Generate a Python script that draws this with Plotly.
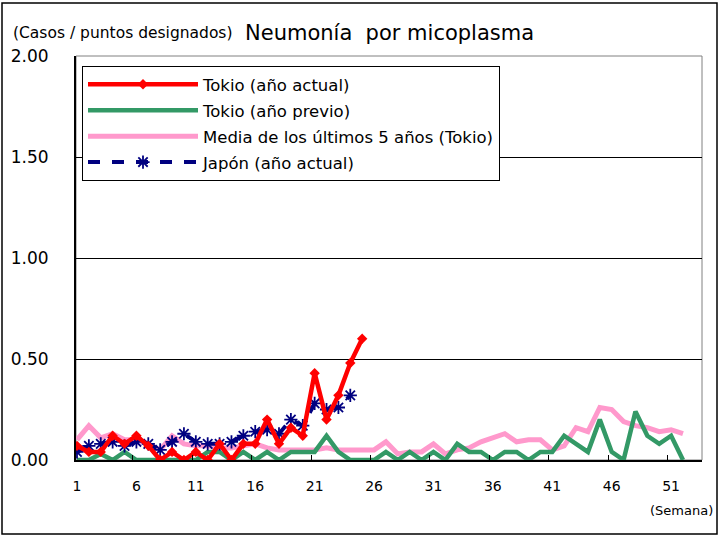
import plotly.graph_objects as go

weeks = list(range(1, 53))
week_ticks = [1, 6, 11, 16, 21, 26, 31, 36, 41, 46, 51]

tokyo_current = [0.07, 0.04, 0.04, 0.12, 0.08, 0.12, 0.07, 0.00, 0.04, 0.00,
                 0.04, 0.00, 0.08, 0.00, 0.08, 0.08, 0.20, 0.08, 0.16, 0.12,
                 0.43, 0.20, 0.32, 0.48, 0.60]
tokyo_prev = [0.00, 0.00, 0.03, 0.00, 0.04, 0.00, 0.00, 0.00, 0.00, 0.00,
              0.00, 0.04, 0.04, 0.00, 0.04, 0.00, 0.04, 0.00, 0.04, 0.04,
              0.04, 0.12, 0.04, 0.00, 0.00, 0.00, 0.04, 0.00, 0.04, 0.00,
              0.04, 0.00, 0.08, 0.04, 0.04, 0.00, 0.04, 0.04, 0.00, 0.04,
              0.04, 0.12, 0.08, 0.04, 0.20, 0.04, 0.00, 0.24, 0.12, 0.08,
              0.12, 0.00]
tokyo_avg5 = [0.10, 0.17, 0.11, 0.13, 0.10, 0.10, 0.08, 0.05, 0.12, 0.08,
              0.07, 0.07, 0.06, 0.06, 0.07, 0.08, 0.06, 0.05, 0.05, 0.05,
              0.05, 0.06, 0.05, 0.05, 0.05, 0.05, 0.09, 0.03, 0.04, 0.04,
              0.08, 0.03, 0.05, 0.06, 0.09, 0.11, 0.13, 0.09, 0.10, 0.10,
              0.05, 0.07, 0.16, 0.14, 0.26, 0.25, 0.19, 0.17, 0.16, 0.14,
              0.15, 0.13]
japan_current = [0.04, 0.07, 0.08, 0.09, 0.07, 0.09, 0.08, 0.05, 0.09, 0.13,
                 0.09, 0.08, 0.08, 0.09, 0.12, 0.14, 0.15, 0.13, 0.20, 0.17,
                 0.28, 0.25, 0.26, 0.32]

FONT = "DejaVu Sans"
W, H = 719, 537
L, R, T, B = 76, 17, 56, 77
pw, ph = W - L - R, H - T - B

def px_x(px):
    return (px - L) / pw

def px_y(py):
    return (H - B - py) / ph

fig = go.Figure()

fig.add_trace(go.Scatter(
    x=weeks[:len(tokyo_avg5)], y=tokyo_avg5, mode="lines",
    name="Media de los últimos 5 años (Tokio)",
    line=dict(color="#FF99CC", width=5), legendrank=3, legendgroup="c"))
fig.add_trace(go.Scatter(
    x=weeks[:len(tokyo_prev)], y=tokyo_prev, mode="lines",
    name="Tokio (año previo)",
    line=dict(color="#339966", width=4.5), legendrank=2, legendgroup="b"))
fig.add_trace(go.Scatter(
    x=weeks[:len(japan_current)], y=japan_current, mode="lines+markers",
    name="Japón (año actual)",
    line=dict(color="#000080", width=4, dash="dash"),
    marker=dict(symbol="asterisk-open", size=11, color="#000080",
                line=dict(color="#000080", width=1.8)),
    legendrank=4, legendgroup="d"))
fig.add_trace(go.Scatter(
    x=weeks[:len(tokyo_current)], y=tokyo_current, mode="lines+markers",
    name="Tokio (año actual)",
    line=dict(color="#FF0000", width=4.5),
    marker=dict(symbol="diamond", size=8, color="#FF0000"),
    legendrank=1, legendgroup="a"))

fig.update_layout(
    width=W, height=H,
    margin=dict(l=L, r=R, t=T, b=B),
    paper_bgcolor="white", plot_bgcolor="white",
    font=dict(family=FONT, size=14, color="black"),
    showlegend=True,
    legend=dict(
        x=px_x(82), y=px_y(66), xanchor="left", yanchor="top",
        bgcolor="white", bordercolor="black", borderwidth=1,
        font=dict(family=FONT, size=16.5, color="black"),
        traceorder="grouped", tracegroupgap=1.5, itemwidth=110,
    ),
    xaxis=dict(
        range=[0.916, 53.6], tickmode="array", tickvals=week_ticks,
        ticktext=[str(v) for v in week_ticks], ticks="",
        showgrid=False, zeroline=False, showline=True,
        linecolor="black", linewidth=2, ticklabelstandoff=12,
        tickfont=dict(family=FONT, size=14, color="black"),
        minor=dict(tickmode="array", tickvals=[v - 0.3 for v in week_ticks[1:]],
                   ticks="inside", ticklen=5, tickcolor="black", tickwidth=1,
                   showgrid=False),
    ),
    yaxis=dict(
        range=[0, 2], tickmode="array", tickvals=[0, 0.5, 1.0, 1.5, 2.0],
        tickformat=".2f", ticks="", showgrid=True, gridcolor="black",
        gridwidth=1, zeroline=False, showline=True, linecolor="black",
        linewidth=2, ticklabelstandoff=22,
        tickfont=dict(family=FONT, size=17, color="black"),
    ),
    shapes=[
        dict(type="rect", xref="paper", yref="paper", x0=0, x1=1, y0=0, y1=1,
             line=dict(color="#808080", width=1), layer="below"),
        dict(type="rect", xref="paper", yref="paper",
             x0=px_x(2), x1=px_x(717), y0=px_y(534), y1=px_y(3),
             line=dict(color="black", width=1.5)),
    ],
    annotations=[
        dict(text="(Casos / puntos designados)", xref="paper", yref="paper",
             x=px_x(11), y=px_y(33), xanchor="left", yanchor="middle",
             showarrow=False, font=dict(family=FONT, size=15.5, color="black")),
        dict(text="Neumonía  por micoplasma", xref="paper", yref="paper",
             x=px_x(243), y=px_y(33), xanchor="left", yanchor="middle",
             showarrow=False, font=dict(family=FONT, size=21, color="black")),
        dict(text="(Semana)", xref="paper", yref="paper",
             x=px_x(715), y=px_y(510), xanchor="right", yanchor="middle",
             showarrow=False, font=dict(family=FONT, size=13, color="black")),
    ],
)

fig.write_html("out.html", config={"displayModeBar": False},
               post_script="document.body.style.margin='0';document.body.style.padding='0';")
